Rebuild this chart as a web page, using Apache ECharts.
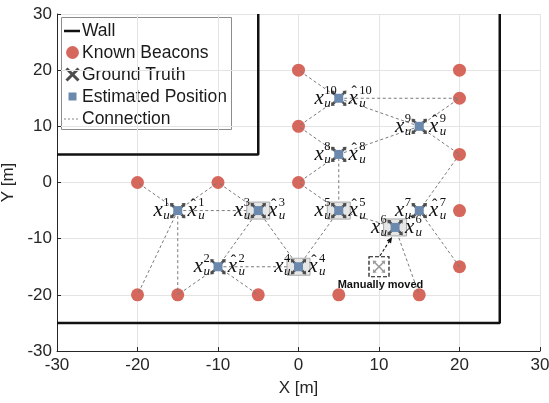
<!DOCTYPE html>
<html>
<head>
<meta charset="utf-8">
<script src="https://cdn.jsdelivr.net/npm/echarts@6/dist/echarts.min.js"></script>
<style>
  html, body { margin: 0; padding: 0; background: #fff; }
  #chart { width: 549px; height: 403px; }
</style>
</head>
<body>
<div id="chart"></div>
<script>
// Room walls: each one a polyline of [x, y] in metres
const outerWall = [[-30, -25], [25, -25], [25, 30]];
const innerWall = [[-30, 5], [-5, 5], [-5, 30]];

// Anchors with known positions
const beacons = [
  [-20, 0], [-10, 0], [0, 0], [0, 10], [0, 20],
  [20, 20], [20, 15], [20, 5], [20, -5], [20, -15],
  [-20, -20], [-15, -20], [-5, -20], [5, -20], [15, -20]
];

// Unknown nodes u1..u10: true and estimated positions
const groundTruth = [
  [-15, -5], [-10, -15], [-5, -5], [0, -15], [5, -5],
  [12, -8], [15, -5], [5, 5], [15, 10], [5, 15]
];
const estimated = [
  [-15, -5], [-10, -15], [-5, -5], [0, -15], [5, -5],
  [12, -8], [15, -5], [5, 5], [15, 10], [5, 15]
];
const nodeIds = [1, 2, 3, 4, 5, 6, 7, 8, 9, 10];
// nodes drawn with a highlight box
const boxedNodes = [3, 4, 5, 6];

// Node that was dragged: original spot and the node it ended up as
const movedFrom = [[10, -15]];
const movedTo = 6;

// Links: 'b' = beacon index, 'n' = node id
const links = [
  ['n1', 'b0'], ['n1', 'b1'], ['n1', 'b10'], ['n1', 'b11'], ['n1', 'n3'],
  ['n2', 'b11'], ['n2', 'b12'], ['n2', 'n3'], ['n2', 'n4'],
  ['n3', 'b1'], ['n3', 'n4'],
  ['n4', 'n5'],
  ['n5', 'b2'], ['n5', 'n8'], ['n5', 'n6'],
  ['n6', 'b14'],
  ['n7', 'b7'], ['n7', 'b9'],
  ['n8', 'b2'], ['n8', 'b3'], ['n8', 'n9'],
  ['n10', 'b4'], ['n10', 'b3'], ['n10', 'b6'], ['n10', 'n9'],
  ['n9', 'b6'], ['n9', 'b7']
];

const legendItems = ['Wall', 'Known Beacons', 'Ground Truth', 'Estimated Position', 'Connection'];

const RED = '#d6675c';
const BLUE = '#6a89ad';
const GT = '#4d4d4d';
const SANS = '"Liberation Sans", Arial, sans-serif';
const SERIF = '"Liberation Serif", "DejaVu Serif", serif';

function lookup(ref) {
  const i = parseInt(ref.slice(1), 10);
  return ref[0] === 'b' ? beacons[i] : groundTruth[nodeIds.indexOf(i)];
}
const linkData = links.map(([a, b]) => lookup(a).concat(lookup(b)));

// quadcopter-like cross with small tips
function crossShape(cx, cy, r, color, lw) {
  const kids = [];
  [[1, 1], [1, -1], [-1, 1], [-1, -1]].forEach(([sx, sy]) => {
    kids.push({
      type: 'line',
      shape: { x1: cx, y1: cy, x2: cx + sx * r, y2: cy + sy * r },
      style: { stroke: color, lineWidth: lw }
    });
    const tx = cx + sx * r, ty = cy + sy * r;
    kids.push({
      type: 'polygon',
      shape: { points: [[tx + sx * 1.2, ty + sy * 1.2], [tx - sx * 2.8, ty + sy * 0.8], [tx + sx * 0.8, ty - sy * 2.8]] },
      style: { fill: color }
    });
  });
  return kids;
}

const chart = echarts.init(document.getElementById('chart'), null, { renderer: 'canvas' });

const option = {
  animation: false,
  backgroundColor: '#fff',
  grid: { left: 57, right: 9, top: 14, bottom: 52, containLabel: false, outerBoundsMode: 'none' },
  xAxis: {
    type: 'value', min: -30, max: 30, interval: 10,
    name: 'X [m]', nameLocation: 'middle', nameGap: 29,
    nameTextStyle: { fontFamily: SANS, fontSize: 17, color: '#262626' },
    axisLine: { onZero: false, lineStyle: { color: '#262626', width: 1 } },
    axisTick: { inside: true, length: 4, lineStyle: { color: '#262626' } },
    axisLabel: { fontFamily: SANS, fontSize: 17, color: '#262626', margin: 6 },
    splitLine: { show: true, lineStyle: { color: '#e4e4e4', width: 1 } }
  },
  yAxis: {
    type: 'value', min: -30, max: 30, interval: 10,
    name: 'Y [m]', nameLocation: 'middle', nameGap: 29, nameRotate: 90,
    nameTextStyle: { fontFamily: SANS, fontSize: 17, color: '#262626' },
    axisLine: { show: true, onZero: false, lineStyle: { color: '#262626', width: 1 } },
    axisTick: { show: true, inside: true, length: 4, lineStyle: { color: '#262626' } },
    axisLabel: { fontFamily: SANS, fontSize: 17, color: '#262626', margin: 5 },
    splitLine: { show: true, lineStyle: { color: '#e4e4e4', width: 1 } }
  },
  series: [
    {
      name: 'Wall', type: 'line', data: outerWall, showSymbol: false, silent: true, z: 3,
      lineStyle: { color: '#111', width: 2.5 }
    },
    {
      name: 'Wall', type: 'line', data: innerWall, showSymbol: false, silent: true, z: 3,
      lineStyle: { color: '#111', width: 2.5 }
    },
    {
      name: 'Known Beacons', type: 'scatter', data: beacons, symbol: 'circle', symbolSize: 13,
      itemStyle: { color: RED, opacity: 1 }, silent: true, z: 4
    },
    {
      name: 'Connection', type: 'custom', data: linkData, z: 5, silent: true,
      encode: { x: [0, 2], y: [1, 3] },
      renderItem: (params, api) => {
        const p1 = api.coord([api.value(0), api.value(1)]);
        const p2 = api.coord([api.value(2), api.value(3)]);
        return {
          type: 'line',
          shape: { x1: p1[0], y1: p1[1], x2: p2[0], y2: p2[1] },
          style: { stroke: '#7a7a7a', lineWidth: 1, lineDash: [3, 2.5] }
        };
      }
    },
    {
      name: 'Boxes', type: 'custom', z: 6, silent: true,
      data: groundTruth.map((p, i) => p.concat([nodeIds[i]])).filter(d => boxedNodes.includes(d[2])),
      encode: { x: 0, y: 1 },
      renderItem: (params, api) => {
        const c = api.coord([api.value(0), api.value(1)]);
        return {
          type: 'rect',
          shape: { x: c[0] - 11.5, y: c[1] - 8.5, width: 23, height: 17 },
          style: { fill: '#e6e6e6', stroke: '#a8a8a8', lineWidth: 1 }
        };
      }
    },
    {
      name: 'Ground Truth', type: 'custom', data: groundTruth, z: 7, silent: true,
      encode: { x: 0, y: 1 },
      renderItem: (params, api) => {
        const c = api.coord([api.value(0), api.value(1)]);
        return { type: 'group', children: crossShape(c[0], c[1], 6.5, GT, 2.4) };
      }
    },
    {
      name: 'Estimated Position', type: 'scatter', data: estimated, symbol: 'rect', symbolSize: 9,
      itemStyle: { color: BLUE, opacity: 1 }, silent: true, z: 8
    },
    {
      name: 'Labels', type: 'custom', z: 9, silent: true,
      data: groundTruth.map((p, i) => p.concat([nodeIds[i]])),
      encode: { x: 0, y: 1 },
      renderItem: (params, api) => {
        const c = api.coord([api.value(0), api.value(1)]);
        const id = String(api.value(2));
        const cx = c[0], cy = c[1];
        const t = (text, x, y, font, align) => ({
          type: 'text', x: x, y: y,
          style: { text: text, font: font, fill: '#111', align: align || 'center', verticalAlign: 'middle' }
        });
        const big = 'italic 21px ' + SERIF;
        const supF = '12.5px ' + SERIF;
        const subF = 'italic 13px ' + SERIF;
        return {
          type: 'group',
          children: [
            t('x', cx - 19.5, cy, big),
            t(id, cx - 14.5, cy - 8, supF, 'left'),
            t('u', cx - 14.5, cy + 5, subF, 'left'),
            t('x', cx + 14.5, cy, big),
            t('\u02C6', cx + 15.5, cy - 5, '16px ' + SERIF),
            t(id, cx + 20.5, cy - 8, supF, 'left'),
            t('u', cx + 20.5, cy + 5, subF, 'left')
          ]
        };
      }
    },
    {
      name: 'Moved', type: 'custom', z: 9, silent: true,
      data: movedFrom.map(p => p.concat(groundTruth[nodeIds.indexOf(movedTo)])),
      encode: { x: [0, 2], y: [1, 3] },
      renderItem: (params, api) => {
        const m = api.coord([api.value(0), api.value(1)]);
        const n = api.coord([api.value(2), api.value(3)]);
        const sx = m[0] + 1, sy = m[1] - 11;
        const ex = n[0] - 3, ey = n[1] + 9.5;
        const ang = Math.atan2(ey - sy, ex - sx);
        const hl = 6, hw = 2.6;
        const bx = ex - hl * Math.cos(ang), by = ey - hl * Math.sin(ang);
        const children = [
          {
            type: 'rect',
            shape: { x: m[0] - 10, y: m[1] - 10, width: 20, height: 20 },
            style: { fill: '#fff', stroke: '#111', lineWidth: 1.2, lineDash: [4, 2] }
          }
        ].concat(crossShape(m[0], m[1], 5, '#9a9a9a', 1.6)).concat([
          {
            type: 'line',
            shape: { x1: sx, y1: sy, x2: bx, y2: by },
            style: { stroke: '#111', lineWidth: 1.1, lineDash: [3, 2] }
          },
          {
            type: 'polygon',
            shape: {
              points: [[ex, ey],
                [bx + hw * Math.sin(ang), by - hw * Math.cos(ang)],
                [bx - hw * Math.sin(ang), by + hw * Math.cos(ang)]]
            },
            style: { fill: '#111' }
          },
          {
            type: 'text', x: m[0] + 1.5, y: m[1] + 18.5,
            style: { text: 'Manually moved', font: 'bold 11px ' + SANS, fill: '#111', align: 'center', verticalAlign: 'middle' }
          }
        ]);
        return { type: 'group', children: children };
      }
    }
  ],
  graphic: [
    {
      type: 'group', z: 100,
      children: [
        { type: 'rect', shape: { x: 61.5, y: 17.5, width: 170, height: 112 },
          style: { fill: '#fff', stroke: '#8c8c8c', lineWidth: 1 } },
        { type: 'line', shape: { x1: 64, y1: 31, x2: 80, y2: 31 }, style: { stroke: '#111', lineWidth: 2.5 } },
        { type: 'circle', shape: { cx: 72.5, cy: 52.5, r: 6.4 }, style: { fill: RED } },
        { type: 'line', shape: { x1: 66.5, y1: 68.5, x2: 78.5, y2: 80.5 }, style: { stroke: GT, lineWidth: 3 } },
        { type: 'line', shape: { x1: 66.5, y1: 80.5, x2: 78.5, y2: 68.5 }, style: { stroke: GT, lineWidth: 3 } },
        { type: 'rect', shape: { x: 68.5, y: 92.5, width: 8, height: 8 }, style: { fill: BLUE } },
        { type: 'line', shape: { x1: 64, y1: 119, x2: 80, y2: 119 }, style: { stroke: '#888', lineWidth: 1, lineDash: [2, 2] } }
      ].concat(legendItems.map((txt, i) => ({
        type: 'text', x: 82, y: 31 + i * 22,
        style: { text: txt, font: '17.5px ' + SANS, fill: '#1a1a1a', verticalAlign: 'middle' }
      })))
    }
  ]
};

chart.setOption(option);
</script>
</body>
</html>
